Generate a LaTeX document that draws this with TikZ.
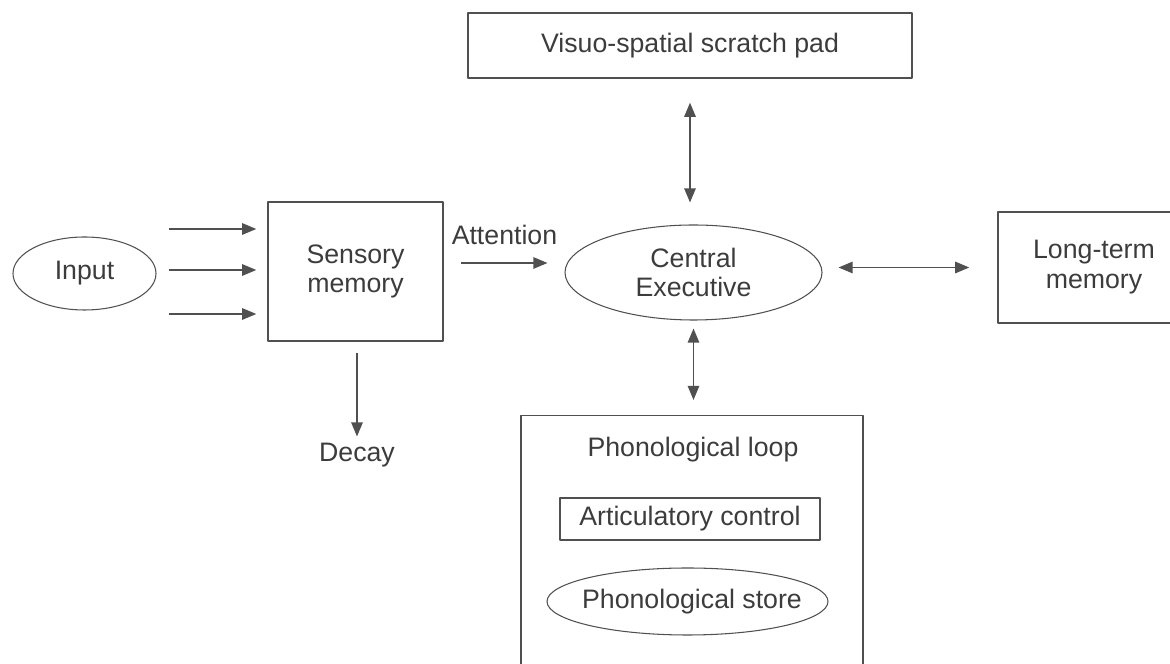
\documentclass[tikz,border=0pt]{standalone}
\usepackage{fontspec}
\setmainfont{Liberation Sans}
\usetikzlibrary{arrows.meta}
\usetikzlibrary{calc}
\usetikzlibrary{positioning}
\usetikzlibrary{shapes.geometric}
\definecolor{ink}{RGB}{60,60,60}
\definecolor{edge}{RGB}{80,80,80}

\begin{document}
\begin{tikzpicture}
	\useasboundingbox (0,0) rectangle (23.4,13.28);
	\clip (0,0) rectangle (23.4,13.28);
	\begin{scope}[>={Triangle[length=8pt,width=6.5pt]}, line width=0.8pt, line join=round, color=edge, text=ink, font=\fontsize{15.2}{17}\selectfont,
		box/.style={draw=edge, rectangle, inner sep=0pt, align=center},
		oval/.style={draw=edge, ellipse, inner sep=0pt, align=center, line width=0.6pt}]

	% boxes and ovals
	\node[oval, minimum width=2.86cm, minimum height=1.46cm] (input) at (1.69,7.81) {Input};
	\node[box, minimum width=3.5cm, minimum height=2.78cm] (sensory) at (7.11,7.85) {Sensory\\memory};
	\node (decay) at (7.14,4.18) {Decay};
	\node[oval, minimum width=5.14cm, minimum height=1.9cm] (central) at (13.87,7.83) {Central\\Executive};
	\node[box, minimum width=8.88cm, minimum height=1.3cm] (visuo) at (13.8,12.37) {Visuo-spatial scratch pad};
	\node[box, minimum width=3.84cm, minimum height=2.22cm] (ltm) at (21.88,7.93) {Long-term\\memory};
	\node[box, minimum width=6.84cm, minimum height=6cm, anchor=north] (loop) at (13.84,4.98) {};
	\node (looptitle) at (13.86,4.28) {Phonological loop};
	\node[box, minimum width=5.2cm, minimum height=0.84cm] (artic) at (13.8,2.9) {Articulatory control};
	\node (store) at (13.84,1.25) {Phonological store};
	\draw [line width=0.6pt] ([xshift=-0.09cm]store.center) ellipse [x radius=2.81cm, y radius=0.67cm];

	% arrows
\foreach \dy in {0.85,0.03,-0.85}
{
	\draw [->] ([shift={(-1.96,\dy)}]sensory.west) -- ([shift={(-0.22,\dy)}]sensory.west);
}
	\draw [->] ([yshift=-0.22cm]decay.north |- sensory.south) -- (decay.north);
	\draw [->] ([shift={(-2.06,0.19)}]central.west) -- node[above=0.23cm] (attn) {Attention} ([shift={(-0.34,0.19)}]central.west);
	\draw [<->] ([yshift=-0.48cm]visuo.south) -- ([yshift=0.44cm]visuo.south |- central.north);
	\draw [<->] ([yshift=-0.16cm]central.south) -- ([yshift=0.3cm]central.south |- loop.north);
	\draw [<->] ([xshift=0.32cm]central.east |- ltm.west) -- ([xshift=-0.56cm]ltm.west);

	\end{scope}
\end{tikzpicture}
\end{document}
